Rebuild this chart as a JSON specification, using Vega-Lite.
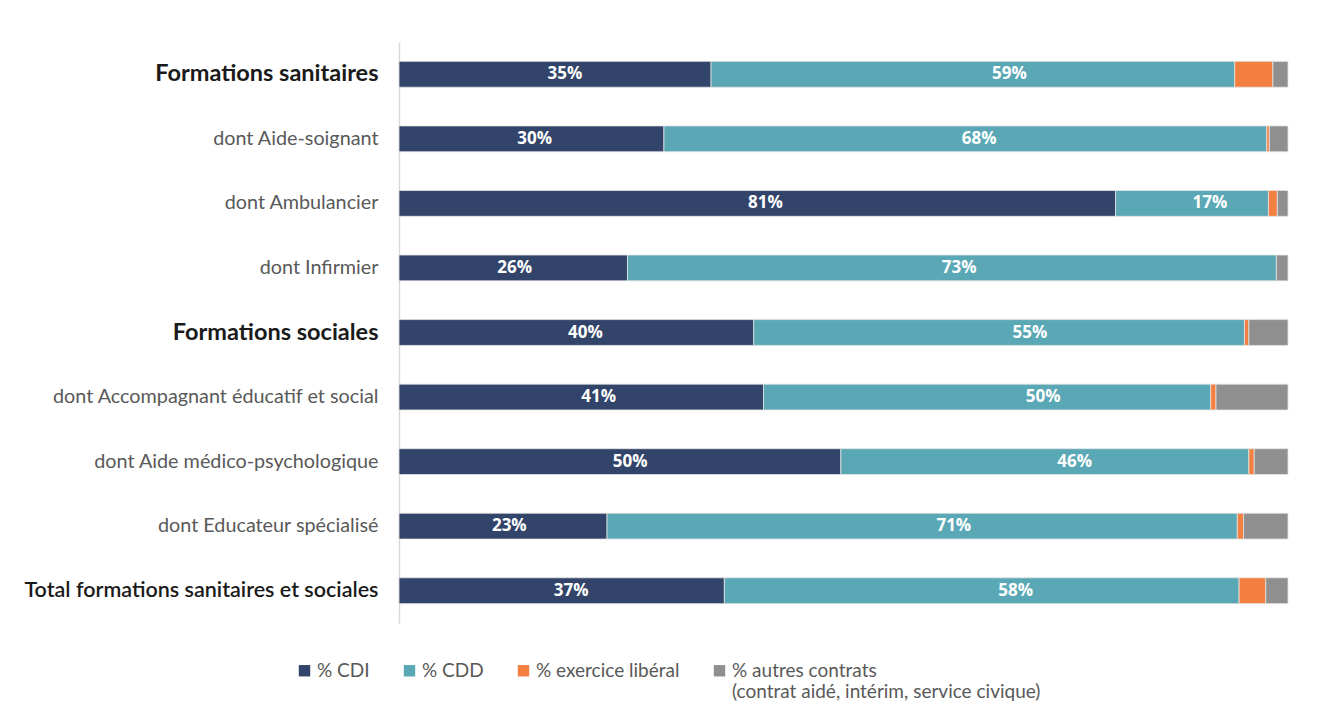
{
  "$schema": "https://vega.github.io/schema/vega-lite/v6.json",
  "autosize": {"type": "none"},
  "width": 889,
  "height": 581,
  "padding": {"left": 399, "top": 42, "right": 33, "bottom": 99},
  "background": "white",
  "config": {"view": {"stroke": null}, "font": "Lato"},
  "data": {
    "values": [
      {"cat": "Formations sanitaires", "type": "% CDI", "o": 1, "value": 0.351},
      {"cat": "Formations sanitaires", "type": "% CDD", "o": 2, "value": 0.589},
      {"cat": "Formations sanitaires", "type": "% exercice libéral", "o": 3, "value": 0.043},
      {"cat": "Formations sanitaires", "type": "% autres contrats", "o": 4, "value": 0.017},
      {"cat": "dont Aide-soignant", "type": "% CDI", "o": 1, "value": 0.298},
      {"cat": "dont Aide-soignant", "type": "% CDD", "o": 2, "value": 0.678},
      {"cat": "dont Aide-soignant", "type": "% exercice libéral", "o": 3, "value": 0.003},
      {"cat": "dont Aide-soignant", "type": "% autres contrats", "o": 4, "value": 0.021},
      {"cat": "dont Ambulancier", "type": "% CDI", "o": 1, "value": 0.806},
      {"cat": "dont Ambulancier", "type": "% CDD", "o": 2, "value": 0.172},
      {"cat": "dont Ambulancier", "type": "% exercice libéral", "o": 3, "value": 0.010},
      {"cat": "dont Ambulancier", "type": "% autres contrats", "o": 4, "value": 0.012},
      {"cat": "dont Infirmier", "type": "% CDI", "o": 1, "value": 0.257},
      {"cat": "dont Infirmier", "type": "% CDD", "o": 2, "value": 0.730},
      {"cat": "dont Infirmier", "type": "% exercice libéral", "o": 3, "value": 0.0},
      {"cat": "dont Infirmier", "type": "% autres contrats", "o": 4, "value": 0.013},
      {"cat": "Formations sociales", "type": "% CDI", "o": 1, "value": 0.399},
      {"cat": "Formations sociales", "type": "% CDD", "o": 2, "value": 0.552},
      {"cat": "Formations sociales", "type": "% exercice libéral", "o": 3, "value": 0.005},
      {"cat": "Formations sociales", "type": "% autres contrats", "o": 4, "value": 0.044},
      {"cat": "dont Accompagnant éducatif et social", "type": "% CDI", "o": 1, "value": 0.410},
      {"cat": "dont Accompagnant éducatif et social", "type": "% CDD", "o": 2, "value": 0.503},
      {"cat": "dont Accompagnant éducatif et social", "type": "% exercice libéral", "o": 3, "value": 0.006},
      {"cat": "dont Accompagnant éducatif et social", "type": "% autres contrats", "o": 4, "value": 0.081},
      {"cat": "dont Aide médico-psychologique", "type": "% CDI", "o": 1, "value": 0.497},
      {"cat": "dont Aide médico-psychologique", "type": "% CDD", "o": 2, "value": 0.459},
      {"cat": "dont Aide médico-psychologique", "type": "% exercice libéral", "o": 3, "value": 0.006},
      {"cat": "dont Aide médico-psychologique", "type": "% autres contrats", "o": 4, "value": 0.038},
      {"cat": "dont Educateur spécialisé", "type": "% CDI", "o": 1, "value": 0.234},
      {"cat": "dont Educateur spécialisé", "type": "% CDD", "o": 2, "value": 0.709},
      {"cat": "dont Educateur spécialisé", "type": "% exercice libéral", "o": 3, "value": 0.007},
      {"cat": "dont Educateur spécialisé", "type": "% autres contrats", "o": 4, "value": 0.050},
      {"cat": "Total formations sanitaires et sociales", "type": "% CDI", "o": 1, "value": 0.366},
      {"cat": "Total formations sanitaires et sociales", "type": "% CDD", "o": 2, "value": 0.579},
      {"cat": "Total formations sanitaires et sociales", "type": "% exercice libéral", "o": 3, "value": 0.030},
      {"cat": "Total formations sanitaires et sociales", "type": "% autres contrats", "o": 4, "value": 0.025}
    ]
  },
  "encoding": {
    "y": {
      "field": "cat",
      "type": "nominal",
      "sort": ["Formations sanitaires", "dont Aide-soignant", "dont Ambulancier", "dont Infirmier", "Formations sociales", "dont Accompagnant éducatif et social", "dont Aide médico-psychologique", "dont Educateur spécialisé", "Total formations sanitaires et sociales"],
      "scale": {"paddingInner": 0.6, "paddingOuter": 0.3},
      "axis": {
        "title": null,
        "ticks": false,
        "domainColor": "#d9d9d9",
        "domainWidth": 1.5,
        "labelPadding": 21,
        "labelFont": "Lato",
        "labelFontSize": {"condition": [
          {"test": "datum.value == 'Formations sanitaires' || datum.value == 'Formations sociales'", "value": 23.5},
          {"test": "datum.value == 'Total formations sanitaires et sociales'", "value": 21.5}
        ], "value": 19.8},
        "labelFontWeight": {"condition": [
          {"test": "datum.value == 'Formations sanitaires' || datum.value == 'Formations sociales'", "value": "bold"},
          {"test": "datum.value == 'Total formations sanitaires et sociales'", "value": 600}
        ], "value": "normal"},
        "labelColor": {"condition": {"test": "indexof(['Formations sanitaires','Formations sociales','Total formations sanitaires et sociales'], datum.value) >= 0", "value": "#1a1a1a"}, "value": "#595959"},
        "labelLimit": 400
      }
    },
    "x": {
      "field": "value",
      "type": "quantitative",
      "stack": "normalize",
      "axis": null
    },
    "order": {"field": "o", "type": "quantitative"}
  },
  "layer": [
    {
      "mark": {"type": "bar", "stroke": "#e3e3e3", "strokeWidth": 0.8},
      "encoding": {
        "color": {
          "field": "type",
          "type": "nominal",
          "sort": ["% CDI", "% CDD", "% exercice libéral", "% autres contrats"],
          "scale": {"domain": ["% CDI", "% CDD", "% exercice libéral", "% autres contrats"], "range": ["#324469", "#5aa8b5", "#f38041", "#8f8f8f"]},
          "legend": {
            "title": null,
            "orient": "none",
            "legendX": -104,
            "legendY": 610,
            "direction": "horizontal",
            "columns": 4,
            "columnPadding": 30,
            "symbolType": "M-1,0.58H1V2.58H-1Z",
            "symbolSize": 130,
            "symbolStrokeWidth": 0,
            "symbolOffset": 0,
            "labelOffset": 3,
            "labelFont": "Lato",
            "labelFontSize": 19,
            "labelColor": "#595959",
            "labelLimit": 400,
            "labelBaseline": "top",
            "labelExpr": "datum.label == '% autres contrats' ? [datum.label, '(contrat aidé, intérim, service civique)'] : [datum.label, ' ']"
          }
        }
      }
    },
    {
      "transform": [{"filter": "datum.o <= 2"}],
      "mark": {"type": "text", "color": "white", "font": "Open Sans", "fontWeight": "bold", "fontSize": 17, "baseline": "middle", "align": "center"},
      "encoding": {
        "x": {"field": "value", "type": "quantitative", "stack": "normalize", "bandPosition": 0.5},
        "text": {"field": "value", "type": "quantitative", "format": ".0%"}
      }
    }
  ]
}
